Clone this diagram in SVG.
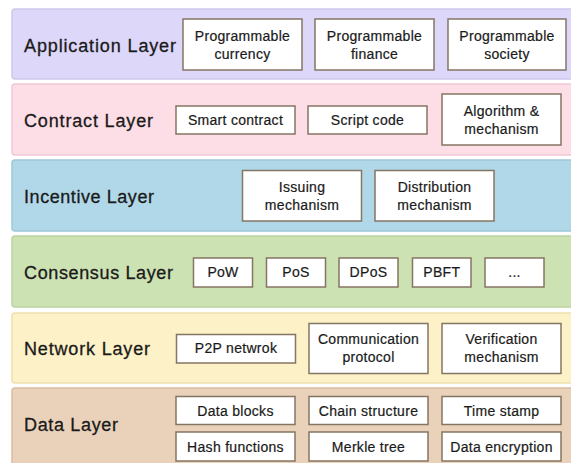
<svg xmlns="http://www.w3.org/2000/svg" width="571" height="463" viewBox="0 0 571 463">
<style>
.band{stroke-width:1.5}
.lbl{font-family:"Liberation Sans",Arial,sans-serif;font-size:18px;fill:#1a1a1a;stroke:#1a1a1a;stroke-width:0.3px}
.box{fill:#ffffff;stroke:#857563;stroke-width:1.5}
.t{font-family:"Liberation Sans",Arial,sans-serif;font-size:14px;letter-spacing:0.3px;fill:#1a1a1a;stroke:#1a1a1a;stroke-width:0.2px;text-anchor:middle}
</style>
<rect x="0" y="0" width="571" height="463" fill="#ffffff"/>
<g id="application-layer">
<rect class="band" x="12" y="9" width="575" height="70" rx="3" fill="#ddd7fa" stroke="#cdc8ea"/>
<text class="lbl" x="24" y="51.5" textLength="152" lengthAdjust="spacing">Application Layer</text>
<g id="programmable-currency"><rect class="box" x="183" y="19" width="119" height="51"/><text class="t" x="242.5" y="40.5">Programmable</text><text class="t" x="242.5" y="58.5">currency</text></g>
<g id="programmable-finance"><rect class="box" x="315" y="19" width="119" height="51"/><text class="t" x="374.5" y="40.5">Programmable</text><text class="t" x="374.5" y="58.5">finance</text></g>
<g id="programmable-society"><rect class="box" x="448" y="19" width="118" height="51"/><text class="t" x="507" y="40.5">Programmable</text><text class="t" x="507" y="58.5">society</text></g>
</g>
<g id="contract-layer">
<rect class="band" x="12" y="84" width="575" height="71" rx="3" fill="#fddde6" stroke="#efc9d3"/>
<text class="lbl" x="24" y="126.5" textLength="129" lengthAdjust="spacing">Contract Layer</text>
<g id="smart-contract"><rect class="box" x="176" y="106" width="119" height="28"/><text class="t" x="235.5" y="125">Smart contract</text></g>
<g id="script-code"><rect class="box" x="308" y="106" width="119" height="28"/><text class="t" x="367.5" y="125">Script code</text></g>
<g id="algorithm-mechanism"><rect class="box" x="442" y="94" width="119" height="51"/><text class="t" x="501.5" y="115.5">Algorithm &amp;</text><text class="t" x="501.5" y="133.5">mechanism</text></g>
</g>
<g id="incentive-layer">
<rect class="band" x="12" y="160" width="575" height="71" rx="3" fill="#b1d8e9" stroke="#9ec7d9"/>
<text class="lbl" x="24" y="202.5" textLength="130" lengthAdjust="spacing">Incentive Layer</text>
<g id="issuing-mechanism"><rect class="box" x="242.5" y="170.5" width="119" height="50.5"/><text class="t" x="302" y="192">Issuing</text><text class="t" x="302" y="210">mechanism</text></g>
<g id="distribution-mechanism"><rect class="box" x="375" y="170.5" width="119" height="50.5"/><text class="t" x="434.5" y="192">Distribution</text><text class="t" x="434.5" y="210">mechanism</text></g>
</g>
<g id="consensus-layer">
<rect class="band" x="12" y="236" width="575" height="71" rx="3" fill="#cde2b3" stroke="#bcd3a2"/>
<text class="lbl" x="24" y="279" textLength="149" lengthAdjust="spacing">Consensus Layer</text>
<g id="pow"><rect class="box" x="193.5" y="258" width="59" height="29"/><text class="t" x="223" y="277">PoW</text></g>
<g id="pos"><rect class="box" x="266.5" y="258" width="59" height="29"/><text class="t" x="296" y="277">PoS</text></g>
<g id="dpos"><rect class="box" x="339" y="258" width="59" height="29"/><text class="t" x="368.5" y="277">DPoS</text></g>
<g id="pbft"><rect class="box" x="412.5" y="258" width="58.5" height="29"/><text class="t" x="441.75" y="277">PBFT</text></g>
<g id="more"><rect class="box" x="485" y="258" width="59" height="29"/><text class="t" x="514.5" y="277">...</text></g>
</g>
<g id="network-layer">
<rect class="band" x="12" y="313" width="575" height="70" rx="3" fill="#fdf1c7" stroke="#efdfb0"/>
<text class="lbl" x="24" y="355" textLength="126" lengthAdjust="spacing">Network Layer</text>
<g id="p2p-network"><rect class="box" x="176.5" y="334.5" width="119" height="28.5"/><text class="t" x="236" y="353">P2P netwrok</text></g>
<g id="communication-protocol"><rect class="box" x="309" y="323.5" width="119" height="50"/><text class="t" x="368.5" y="344">Communication</text><text class="t" x="368.5" y="362">protocol</text></g>
<g id="verification-mechanism"><rect class="box" x="442" y="323.5" width="119" height="50"/><text class="t" x="501.5" y="344">Verification</text><text class="t" x="501.5" y="362">mechanism</text></g>
</g>
<g id="data-layer">
<rect class="band" x="12" y="388" width="575" height="90" rx="3" fill="#ead2ba" stroke="#dbbd9f"/>
<text class="lbl" x="24" y="431" textLength="94" lengthAdjust="spacing">Data Layer</text>
<g id="data-blocks"><rect class="box" x="176" y="396.5" width="119" height="28"/><text class="t" x="235.5" y="415.5">Data blocks</text></g>
<g id="chain-structure"><rect class="box" x="309" y="396.5" width="119" height="28"/><text class="t" x="368.5" y="415.5">Chain structure</text></g>
<g id="time-stamp"><rect class="box" x="442" y="396.5" width="119" height="28"/><text class="t" x="501.5" y="415.5">Time stamp</text></g>
<g id="hash-functions"><rect class="box" x="176" y="432" width="119" height="29"/><text class="t" x="235.5" y="451.5">Hash functions</text></g>
<g id="merkle-tree"><rect class="box" x="309" y="432" width="119" height="29"/><text class="t" x="368.5" y="451.5">Merkle tree</text></g>
<g id="data-encryption"><rect class="box" x="442" y="432" width="119" height="29"/><text class="t" x="501.5" y="451.5">Data encryption</text></g>
</g>
<g id="connectors"></g>
</svg>
